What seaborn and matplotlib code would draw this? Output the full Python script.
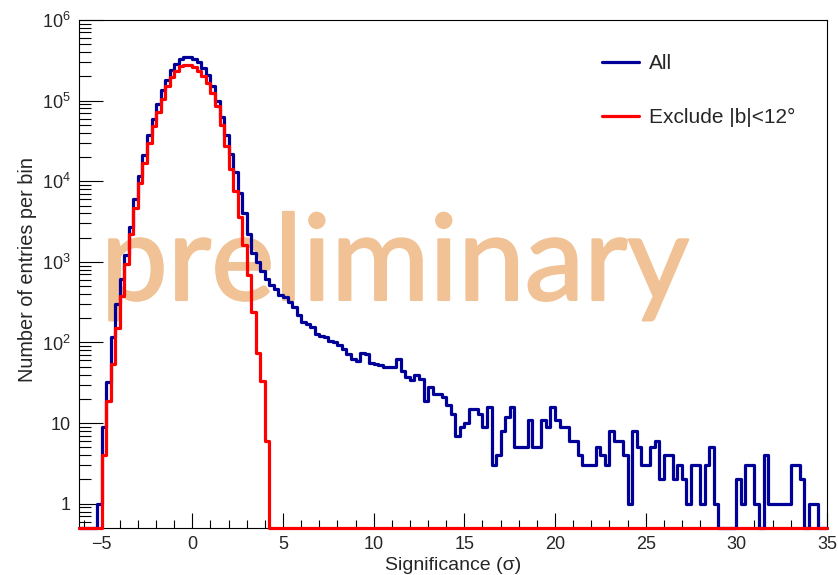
import numpy as np
import pandas as pd
import matplotlib
matplotlib.use("Agg")
import matplotlib.pyplot as plt
import matplotlib.patheffects as pe
import seaborn as sns
from matplotlib.ticker import FixedLocator, FuncFormatter, NullFormatter
from matplotlib.lines import Line2D

# ---------------- data ----------------
BIN_LO, BIN_HI, BIN_W = -6.25, 35.0, 0.25

counts_all = [
    0, 0, 0, 0, 1, 9, 32, 118, 300, 620,
    1200, 2700, 6000, 11500, 21000, 37000, 60000, 92000, 135000, 180000,
    240000, 285000, 330000, 345000, 345000, 330000, 300000, 255000, 205000, 150000,
    100000, 63000, 38000, 22000, 13000, 7200, 4000, 2200, 1300, 1000,
    780, 620, 520, 460, 390, 370, 320, 275, 220, 180,
    170, 155, 128, 120, 117, 105, 100, 92, 83, 72,
    62, 59, 74, 72, 56, 54, 52, 50, 49, 49,
    62, 44, 37, 34, 40, 35, 19, 28, 23, 23,
    21, 17, 13, 7, 9, 10, 15, 15, 13, 9,
    16, 3, 4, 8, 12, 16, 5, 5, 5, 11,
    5, 5, 11, 9, 16, 11, 9, 9, 6, 6,
    4, 3, 3, 3, 5, 4, 3, 8, 6, 6,
    4, 1, 8, 5, 3, 3, 5, 6, 2, 4,
    4, 2, 3, 2, 1, 3, 3, 1, 3, 5,
    1, 0, 0, 0, 0, 2, 1, 3, 3, 1,
    0, 4, 1, 1, 1, 1, 1, 3, 3, 2,
    0, 1, 1, 0, 0,
]

counts_excl = [
    0, 0, 0, 0, 0, 4, 19, 54, 150, 380,
    950, 2200, 4700, 9500, 17000, 30000, 48000, 72000, 105000, 150000,
    195000, 235000, 265000, 280000, 275000, 260000, 235000, 200000, 165000, 125000,
    85000, 50000, 27000, 14000, 7500, 3600, 1600, 680, 240, 75,
    33, 6, 0, 0, 0, 0, 0, 0, 0, 0,
    0, 0, 0, 0, 0, 0, 0, 0, 0, 0,
    0, 0, 0, 0, 0, 0, 0, 0, 0, 0,
    0, 0, 0, 0, 0, 0, 0, 0, 0, 0,
    0, 0, 0, 0, 0, 0, 0, 0, 0, 0,
    0, 0, 0, 0, 0, 0, 0, 0, 0, 0,
    0, 0, 0, 0, 0, 0, 0, 0, 0, 0,
    0, 0, 0, 0, 0, 0, 0, 0, 0, 0,
    0, 0, 0, 0, 0, 0, 0, 0, 0, 0,
    0, 0, 0, 0, 0, 0, 0, 0, 0, 0,
    0, 0, 0, 0, 0, 0, 0, 0, 0, 0,
    0, 0, 0, 0, 0, 0, 0, 0, 0, 0,
    0, 0, 0, 0, 0,
]

series_names = ["All", "Exclude |b|<12°"]
series_colors = ["#000099", "#ff0000"]

x_major_ticks = [-5, 0, 5, 10, 15, 20, 25, 30, 35]
y_major_ticks = [1, 10, 1e2, 1e3, 1e4, 1e5, 1e6]
x_label = "Significance (σ)"
y_label = "Number of entries per bin"
watermark = "preliminary"
Y_MIN, Y_MAX = 0.5, 1e6

# ---------------- style ----------------
sns.set_theme(style="ticks")
plt.rcParams["font.family"] = ["Liberation Sans", "DejaVu Sans"]
plt.rcParams["mathtext.fontset"] = "custom"
plt.rcParams["mathtext.rm"] = "Liberation Sans"
plt.rcParams["mathtext.it"] = "Liberation Sans:italic"
plt.rcParams["axes.linewidth"] = 0.8
plt.rcParams["axes.edgecolor"] = "black"

fig = plt.figure(figsize=(8.38, 5.75), dpi=100)
fig.patch.set_facecolor("white")
L, R, T, B = 79, 827, 20, 528
W, H = 838, 575
ax = fig.add_axes([L / W, 1 - B / H, (R - L) / W, (B - T) / H])
ax.set_facecolor("white")

edges = np.linspace(BIN_LO, BIN_HI, len(counts_all) + 1)
centers = 0.5 * (edges[:-1] + edges[1:])

assert len(counts_all) == len(counts_excl) == len(centers)

for name, col, vals in zip(series_names, series_colors, [counts_all, counts_excl]):
    vals = np.asarray(vals, dtype=float)
    # empty bins are drawn on the floor of the log axis (ROOT convention)
    df = pd.DataFrame({"x": centers, "w": np.where(vals > 0, vals, Y_MIN)})
    sns.histplot(data=df, x="x", weights="w", bins=list(edges), element="step",
                 fill=False, color=col, linewidth=2.3, ax=ax,
                 log_scale=(False, True), label=name, zorder=3)

for ln in ax.lines:
    ln.set_clip_on(False)

ax.set_xlim(BIN_LO, BIN_HI)
ax.set_ylim(Y_MIN, Y_MAX)

# watermark
wm_color = "#f0c296"
ax.text(0.4225, 0.449, watermark, transform=ax.transAxes, ha="center", va="baseline",
        fontsize=86, color=wm_color, family=["Lato", "DejaVu Sans"], zorder=1,
        path_effects=[pe.Stroke(linewidth=1.6, foreground=wm_color), pe.Normal()])

# ticks
ax.xaxis.set_major_locator(FixedLocator(x_major_ticks))
ax.xaxis.set_minor_locator(FixedLocator(np.arange(-6, 36, 1)))
ax.yaxis.set_major_locator(FixedLocator(y_major_ticks))
minor_y = [m * 10.0 ** e for e in range(-1, 6) for m in range(2, 10)]
ax.yaxis.set_minor_locator(FixedLocator([v for v in minor_y if Y_MIN <= v <= Y_MAX]))
ax.yaxis.set_minor_formatter(NullFormatter())


def yfmt(v, pos):
    if v == 1:
        return "1"
    if v == 10:
        return "10"
    e = int(round(np.log10(v)))
    return r"$\mathregular{10^{%d}}$" % e


ax.yaxis.set_major_formatter(FuncFormatter(yfmt))
ax.xaxis.set_major_formatter(FuncFormatter(lambda v, p: "\u2212%d" % abs(v) if v < 0 else "%d" % v))

ax.tick_params(axis="both", which="both", direction="in", top=False, right=False,
               color="black", width=0.8)
ax.tick_params(axis="y", which="major", length=17, pad=6, labelsize=13)
ax.tick_params(axis="y", which="minor", length=8.5)
ax.tick_params(axis="x", which="major", length=11, pad=6, labelsize=13)
ax.tick_params(axis="x", which="minor", length=6)
for s in ax.spines.values():
    s.set_visible(True)
    s.set_color("black")

ax.set_xlabel(x_label, fontsize=14, labelpad=3)
ax.set_ylabel(y_label, fontsize=14.3)
ax.yaxis.set_label_coords(-0.056, 0.508)

handles = [Line2D([], [], color=c, linewidth=2.3) for c in series_colors]
ax.legend(handles, series_names, loc="upper left", bbox_to_anchor=(0.699, 0.933),
          frameon=False, fontsize=15, handlelength=1.78, handletextpad=0.48,
          labelspacing=1.69, borderpad=0, borderaxespad=0)

fig.savefig("out.png", dpi=100, facecolor="white")
